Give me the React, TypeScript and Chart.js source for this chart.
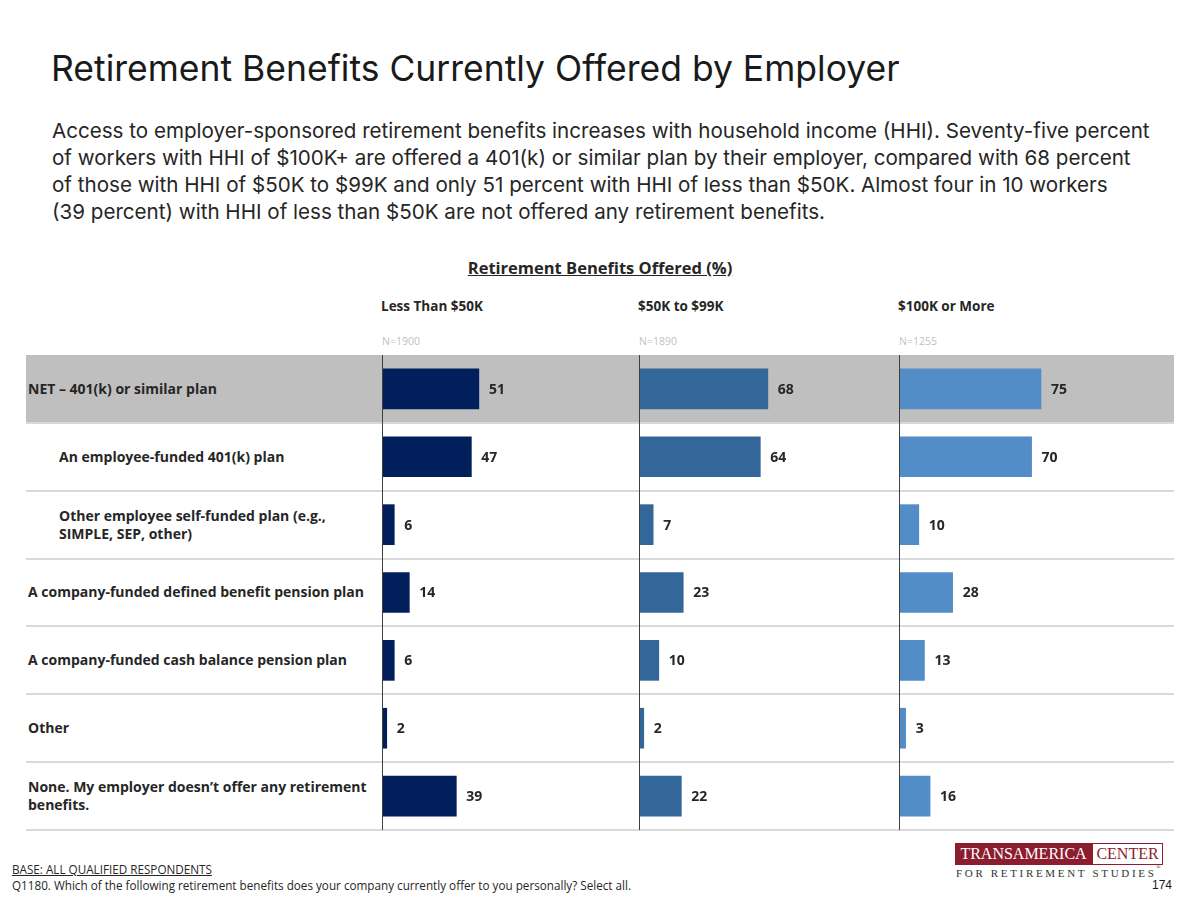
import React, { useEffect, useRef } from "react";
import { Chart, registerables } from "chart.js";

Chart.register(...registerables);

const categories: string[][] = [
  ["NET – 401(k) or similar plan"],
  ["An employee-funded 401(k) plan"],
  ["Other employee self-funded plan (e.g.,", "SIMPLE, SEP, other)"],
  ["A company-funded defined benefit pension plan"],
  ["A company-funded cash balance pension plan"],
  ["Other"],
  ["None. My employer doesn’t offer any retirement", "benefits."],
];
const indented: boolean[] = [false, true, true, false, false, false, false];

const groupNames: string[] = ["Less Than $50K", "$50K to $99K", "$100K or More"];
const groupN: string[] = ["N=1900", "N=1890", "N=1255"];
const lessThan50K: number[] = [51, 47, 6, 14, 6, 2, 39];
const from50Kto99K: number[] = [68, 64, 7, 23, 10, 2, 22];
const over100K: number[] = [75, 70, 10, 28, 13, 3, 16];
const groupColors: string[] = ["#001F5B", "#336699", "#538DC8"];

const subtitleLines: string[] = [
  "Access to employer-sponsored retirement benefits increases with household income (HHI). Seventy-five percent",
  "of workers with HHI of $100K+ are offered a 401(k) or similar plan by their employer, compared with 68 percent",
  "of those with HHI of $50K to $99K and only 51 percent with HHI of less than $50K. Almost four in 10 workers",
  "(39 percent) with HHI of less than $50K are not offered any retirement benefits.",
];

const TOP = 355;
const BOTTOM = 830;
const ROW_H = (BOTTOM - TOP) / categories.length;
const PX_PER_UNIT = 1.88;
const panels = [
  { axis: 382, left: 383, right: 639 },
  { axis: 639, left: 640, right: 899 },
  { axis: 899, left: 900, right: 1174 },
];

const LABEL_FONT = "'Open Sans', 'Noto Sans', sans-serif";
const HEAD_FONT = "Inter, 'Liberation Sans', sans-serif";
const SERIF = "'Liberation Serif', 'DejaVu Serif', serif";

const valueLabels = {
  id: "valueLabels",
  afterDatasetsDraw(chart: any) {
    const ctx = chart.ctx;
    const meta = chart.getDatasetMeta(0);
    const data = chart.data.datasets[0].data as number[];
    ctx.save();
    ctx.font = `700 14px ${LABEL_FONT}`;
    ctx.fillStyle = "#262626";
    ctx.textAlign = "left";
    ctx.textBaseline = "middle";
    meta.data.forEach((bar: any, i: number) => {
      ctx.fillText(String(data[i]), bar.x + 10, bar.y + 1);
    });
    ctx.restore();
  },
};

function Panel({ values, color, width }: { values: number[]; color: string; width: number }) {
  const ref = useRef<HTMLCanvasElement>(null);
  useEffect(() => {
    if (!ref.current) return;
    const chart = new Chart(ref.current, {
      type: "bar",
      data: {
        labels: categories.map((c) => c.join(" ")),
        datasets: [{ data: values, backgroundColor: color, barThickness: 40, borderWidth: 0 }],
      },
      options: {
        indexAxis: "y",
        responsive: false,
        maintainAspectRatio: false,
        animation: false,
        layout: { padding: 0 },
        plugins: { legend: { display: false }, tooltip: { enabled: false } },
        scales: {
          x: { display: false, min: 0, max: width / PX_PER_UNIT },
          y: { display: false },
        },
      },
      plugins: [valueLabels],
    });
    return () => chart.destroy();
  }, []);
  return <canvas ref={ref} width={width} height={BOTTOM - TOP} style={{ width, height: BOTTOM - TOP, display: "block" }} />;
}

export default function App() {
  const groups = [lessThan50K, from50Kto99K, over100K];
  const tagline = "FOR RETIREMENT STUDIES".split("");
  return (
    <div style={{ position: "absolute", left: 0, top: 0, width: 1200, height: 900, background: "#fff", overflow: "hidden", fontFamily: HEAD_FONT }}>
      <div style={{ position: "absolute", left: 51, top: 47, fontSize: 35.5, color: "#1a1a1a", whiteSpace: "nowrap" }}>
        Retirement Benefits Currently Offered by Employer
      </div>
      <div style={{ position: "absolute", left: 52, top: 117, fontSize: 20.6, lineHeight: "27px", color: "#262626" }}>
        {subtitleLines.map((l, i) => (
          <div key={i} style={{ whiteSpace: "nowrap" }}>{l}</div>
        ))}
      </div>
      <div style={{ position: "absolute", left: 0, width: 1200, top: 256, textAlign: "center", fontFamily: LABEL_FONT, fontWeight: 700, fontSize: 16.5, color: "#262626", textDecoration: "underline" }}>
        Retirement Benefits Offered (%)
      </div>
      {panels.map((p, i) => (
        <React.Fragment key={"h" + i}>
          <div style={{ position: "absolute", left: p.axis - 1, top: 297, fontFamily: LABEL_FONT, fontWeight: 700, fontSize: 13.5, color: "#262626", whiteSpace: "nowrap" }}>
            {groupNames[i]}
          </div>
          <div style={{ position: "absolute", left: p.axis, top: 334, fontFamily: LABEL_FONT, fontSize: 10.5, color: "#BFBFBF", whiteSpace: "nowrap" }}>
            {groupN[i]}
          </div>
        </React.Fragment>
      ))}
      <div style={{ position: "absolute", left: 26, top: TOP, width: 1174 - 26, height: ROW_H, background: "#BFBFBF" }} />
      {categories.map((c, i) => (
        <div key={"s" + i} style={{ position: "absolute", left: 26, top: Math.round(TOP + ROW_H * (i + 1)) - 1, width: 1174 - 26, height: 2, background: "#D9D9D9" }} />
      ))}
      {categories.map((c, i) => (
        <div key={"l" + i} style={{ position: "absolute", left: indented[i] ? 59 : 28, top: TOP + ROW_H * i, height: ROW_H, width: 345, display: "flex", flexDirection: "column", justifyContent: "center", fontFamily: LABEL_FONT, fontWeight: 700, fontSize: 14, lineHeight: "18px", color: "#262626" }}>
          {c.map((line, j) => (
            <div key={j} style={{ whiteSpace: "nowrap" }}>{line}</div>
          ))}
        </div>
      ))}
      {panels.map((p, i) => (
        <React.Fragment key={"p" + i}>
          <div style={{ position: "absolute", left: p.left, top: TOP }}>
            <Panel values={groups[i]} color={groupColors[i]} width={p.right - p.left} />
          </div>
          <div style={{ position: "absolute", left: p.axis, top: TOP, width: 1, height: BOTTOM - TOP, background: "#404040" }} />
        </React.Fragment>
      ))}
      <div style={{ position: "absolute", left: 12, top: 861, fontFamily: LABEL_FONT, fontSize: 11.7, color: "#262626", textDecoration: "underline", whiteSpace: "nowrap" }}>
        BASE: ALL QUALIFIED RESPONDENTS
      </div>
      <div style={{ position: "absolute", left: 12, top: 877, fontFamily: LABEL_FONT, fontSize: 11.7, color: "#262626", whiteSpace: "nowrap" }}>
        Q1180. Which of the following retirement benefits does your company currently offer to you personally? Select all.
      </div>
      <div style={{ position: "absolute", left: 955, top: 843, height: 22, display: "flex", fontFamily: SERIF, fontSize: 16 }}>
        <div style={{ background: "#8C1D2E", color: "#fff", boxSizing: "border-box", width: 137, lineHeight: "22px", textAlign: "center", whiteSpace: "nowrap" }}>TRANSAMERICA</div>
        <div style={{ border: "1px solid #8C1D2E", color: "#8C1D2E", boxSizing: "border-box", width: 71, lineHeight: "20px", textAlign: "center", whiteSpace: "nowrap", background: "#fff" }}>CENTER</div>
      </div>
      <div style={{ position: "absolute", left: 956, top: 867, width: 198, display: "flex", justifyContent: "space-between", fontFamily: SERIF, fontSize: 11, color: "#333", whiteSpace: "nowrap" }}>
        {tagline.map((ch, i) => (
          <span key={i}>{ch === " " ? "\u00a0" : ch}</span>
        ))}
      </div>
      <div style={{ position: "absolute", left: 1156, top: 864, fontFamily: SERIF, fontSize: 6, color: "#333" }}>®</div>
      <div style={{ position: "absolute", right: 28, top: 878, fontFamily: "'Liberation Sans', sans-serif", fontSize: 12, color: "#1a1a1a" }}>174</div>
    </div>
  );
}
